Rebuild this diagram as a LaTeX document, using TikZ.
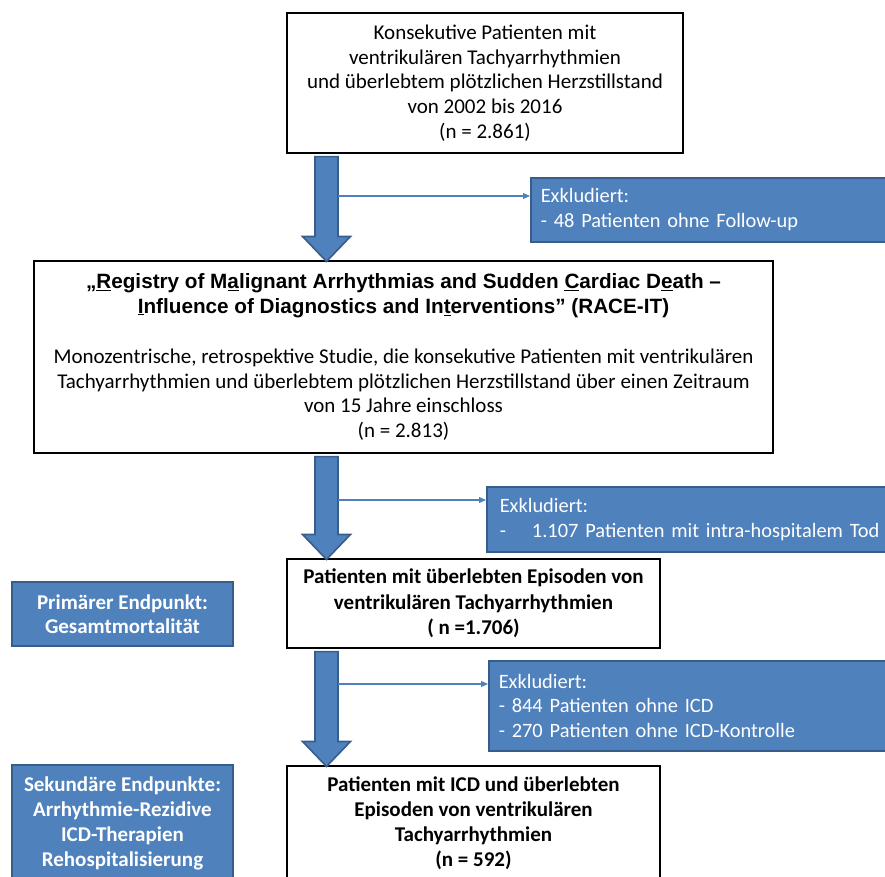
\documentclass[tikz,border=0pt]{standalone}
\usepackage{fontspec}
\setmainfont{Carlito}
\newfontfamily\titlefont{Liberation Sans}
\usetikzlibrary{calc,arrows.meta}

\definecolor{ofblue}{HTML}{4F81BD}
\definecolor{ofline}{HTML}{385D8A}

\begin{document}
\begin{tikzpicture}[x=1pt,y=-1pt,
  txt/.style={font=\fontsize{21}{24.6}\selectfont},
  whitebox/.style={txt,draw=black,line width=1.1pt,fill=white,align=center,inner sep=0pt},
  bluebox/.style={txt,draw=ofline,line width=1.5pt,fill=ofblue,text=white,inner sep=0pt},
  exbox/.style={bluebox,font=\fontsize{20.4}{24.6}\selectfont,anchor=north west,align=left,inner xsep=10pt},
  bigarrow/.style={draw=ofline,line width=1.6pt,fill=ofblue,line join=miter},
  exarrow/.style={-{Triangle[length=7pt,width=6pt]},draw=ofblue,line width=1.1pt}]
\clip (0,0) rectangle (885,876);
\useasboundingbox (0,0) rectangle (885,876);
% ================= main column =================
\node[whitebox,minimum width=396pt,minimum height=140pt] (src) at (485,83)
  {Konsekutive Patienten mit\\ventrikulären Tachyarrhythmien\\und überlebtem plötzlichen Herzstillstand\\von 2002 bis 2016\\(n = 2.861)};
\node[whitebox,minimum width=739pt,minimum height=192pt] (reg) at (403.5,357)
  {\titlefont\bfseries\fontsize{20.7}{24.6}\selectfont „\underline{R}egistry of M\underline{a}lignant Arrhythmias and Sudden \underline{C}ardiac D\underline{e}ath –\\
   \titlefont\bfseries\fontsize{20.7}{24.6}\selectfont \underline{I}nfluence of Diagnostics and In\underline{t}erventions” (RACE-IT)\\[26pt]
   \normalfont Monozentrische, retrospektive Studie, die konsekutive Patienten mit ventrikulären\\
   \normalfont Tachyarrhythmien und überlebtem plötzlichen Herzstillstand über einen Zeitraum\\
   \normalfont von 15 Jahre einschloss\\\normalfont (n = 2.813)};
\node[whitebox,font=\fontsize{21}{25.5}\selectfont\bfseries,minimum width=373pt,minimum height=89pt] (surv) at (473.5,603.5)
  {Patienten mit überlebten Episoden von\\ventrikulären Tachyarrhythmien\\( n =1.706)};
\node[whitebox,font=\fontsize{21}{25}\selectfont\bfseries,minimum width=373pt,minimum height=115pt] (icd) at (473.5,823.5)
  {Patienten mit ICD und überlebten\\Episoden von ventrikulären\\Tachyarrhythmien\\(n = 592)};
% ================= exclusions =================
\node[exbox,text width=345pt,minimum height=64pt] (ex1) at (530,177)
  {Exkludiert:\\- 48 Patienten ohne Follow-up};
\node[exbox,inner xsep=13pt,text width=420pt,minimum height=65pt] (ex2) at (486,486)
  {Exkludiert:\\-\hspace{26pt}1.107 Patienten mit intra-hospitalem Tod};
\node[exbox,text width=387pt,minimum height=90pt] (ex3) at (488,660)
  {Exkludiert:\\- 844 Patienten ohne ICD\\- 270 Patienten ohne ICD-Kontrolle};
% ================= endpoints =================
\node[bluebox,font=\fontsize{21}{24.6}\selectfont\bfseries,align=center,minimum width=221pt,minimum height=64pt] (prim) at (122.5,614)
  {Primärer Endpunkt:\\Gesamtmortalität};
\node[bluebox,font=\fontsize{21}{25}\selectfont\bfseries,align=center,minimum width=221pt,minimum height=116pt] (sec) at (122.5,823)
  {Sekundäre Endpunkte:\\Arrhythmie-Rezidive\\ICD-Therapien\\Rehospitalisierung};
% ================= big arrows =================
\coordinate (ax) at (326.5,0);
\foreach \a/\b in {src/reg,reg/surv,surv/icd} {
  \draw[bigarrow] ($(\a.south -| ax)+(-11.5,3)$) -- ($(\b.north -| ax)+(-11.5,-24)$)
    -- ($(\b.north -| ax)+(-24,-24)$) -- ($(\b.north -| ax)+(0,1)$) -- ($(\b.north -| ax)+(24,-24)$)
    -- ($(\b.north -| ax)+(11.5,-24)$) -- ($(\a.south -| ax)+(11.5,3)$) -- cycle;
}
% thin arrows to exclusions
\coordinate (t1) at (338,196);
\coordinate (t2) at (338,500);
\coordinate (t3) at (338,684);
\draw[exarrow] (t1) -- (t1 -| ex1.west);
\draw[exarrow] (t2) -- (t2 -| ex2.west);
\draw[exarrow] (t3) -- (t3 -| ex3.west);
\end{tikzpicture}
\end{document}
